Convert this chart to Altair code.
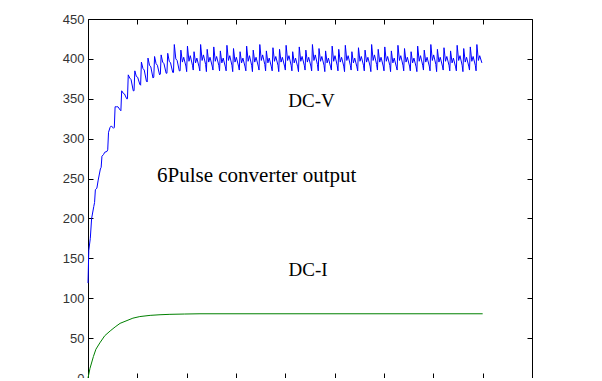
import altair as alt
import pandas as pd

# ---- data ----
y_ticks = [0, 50, 100, 150, 200, 250, 300, 350, 400, 450]
x_ticks = [0, 1, 2, 3, 4, 5, 6, 7, 8, 9]

n_cycles = 60
x_end = 8.0
phases = [0.0, 0.12, 0.35, 0.55, 0.88]

v_trough = [119, 220, 264, 286, 314, 335, 350, 360, 367, 371, 377, 381, 382, 383,
            385, 384, 386, 385, 384, 386, 385, 385, 384, 386, 385, 384, 386, 385, 385, 384,
            386, 385, 384, 386, 385, 385, 384, 386, 385, 384, 386, 385, 385, 384, 386, 385,
            384, 386, 385, 385, 384, 386, 385, 384, 386, 385, 385, 384, 386, 385]
v_peak = [160, 236, 278, 308, 340, 360, 380, 385, 396, 401, 403, 405, 407, 418,
          411, 416, 409, 418, 412, 415, 410, 417, 413, 409, 416, 411, 418, 410, 414, 412,
          417, 409, 415, 411, 418, 413, 410, 416, 412, 417, 409, 414, 411, 418, 412, 415,
          410, 417, 413, 409, 416, 411, 418, 412, 414, 410, 417, 413, 415, 418]
v_dip = [175, 238, 280, 314, 340, 357, 376, 378, 388, 392, 394, 396, 397, 400,
         396, 397, 395, 398, 396, 397, 395, 398, 396, 395, 397, 396, 398, 395, 397, 396,
         398, 395, 397, 396, 398, 397, 395, 397, 396, 398, 395, 397, 396, 398, 396, 397,
         395, 398, 396, 395, 397, 396, 398, 396, 397, 395, 398, 396, 397, 398]
v_bump = [200, 248, 283, 316, 340, 356, 374, 377, 386, 390, 392, 394, 395, 398,
          402, 404, 401, 405, 402, 403, 401, 404, 402, 401, 404, 402, 405, 401, 403, 402,
          404, 401, 403, 402, 405, 403, 401, 404, 402, 404, 401, 403, 402, 405, 402, 403,
          401, 404, 402, 401, 404, 402, 405, 402, 403, 401, 404, 402, 403, 404]
v_pre = [215, 262, 284, 313, 336, 350, 360, 368, 372, 376, 380, 382, 383, 385,
         391, 392, 390, 393, 391, 392, 390, 392, 391, 390, 392, 391, 393, 390, 392, 391,
         392, 390, 392, 391, 393, 392, 390, 392, 391, 392, 390, 392, 391, 393, 391, 392,
         390, 392, 391, 390, 392, 391, 393, 391, 392, 390, 392, 391, 392, 395]

i_x = [0, 0.04, 0.11, 0.16, 0.24, 0.34, 0.45, 0.55, 0.65, 0.75, 0.91, 1.05, 1.26, 1.46,
       1.66, 1.96, 2.27, 8.0]
i_y = [0, 12, 27, 36, 44, 53, 59, 64, 68.5, 71, 75, 77, 78.5, 79.3, 79.8, 80.2, 80.5, 80.5]

labels = ["DC-V", "6Pulse converter output", "DC-I"]
label_x = [4.53, 3.42, 4.46]
label_y = [340, 246, 128]
label_size = [19, 21, 19]

# ---- build tables ----
period = x_end / n_cycles
rows = []
for k in range(n_cycles):
    vals = [v_trough[k], v_peak[k], v_dip[k], v_bump[k], v_pre[k]]
    for ph, v in zip(phases, vals):
        rows.append({"x": (k + ph) * period, "y": v})
v_df = pd.DataFrame(rows)
i_df = pd.DataFrame({"x": i_x, "y": i_y})
t_df = pd.DataFrame({"t": labels, "x": label_x, "y": label_y, "s": label_size})

xs = alt.Scale(domain=[0, 9], nice=False, zero=False)
ys = alt.Scale(domain=[0, 450], nice=False, zero=True)

common = dict(offset=-5, tickSize=5, domain=False, grid=False, title=None,
              tickColor="#000", tickWidth=1)

v_line = alt.Chart(v_df).mark_line(color="#0000ff", strokeWidth=1).encode(
    x=alt.X("x:Q", scale=xs, axis=alt.Axis(orient="bottom", values=x_ticks, labels=False, **common)),
    y=alt.Y("y:Q", scale=ys, axis=alt.Axis(orient="left", values=y_ticks, labelFont="Liberation Sans",
                                           labelFontSize=13, labelColor="#333333", labelPadding=4,
                                           **common)),
    order="x:Q",
)

i_line = alt.Chart(i_df).mark_line(color="#008000", strokeWidth=1).encode(
    x=alt.X("x:Q", scale=xs, axis=alt.Axis(orient="top", values=x_ticks, labels=False, **common)),
    y=alt.Y("y:Q", scale=ys, axis=alt.Axis(orient="right", values=y_ticks, labels=False, **common)),
    order="x:Q",
)

texts = []
for i in range(len(labels)):
    texts.append(
        alt.Chart(t_df.iloc[[i]]).mark_text(
            font="Liberation Serif", fontSize=label_size[i], color="#000000",
            align="center", baseline="alphabetic"
        ).encode(
            x=alt.X("x:Q", scale=xs, axis=None),
            y=alt.Y("y:Q", scale=ys, axis=None),
            text="t:N",
        )
    )

chart = alt.layer(v_line, i_line, *texts).resolve_axis(
    x="independent", y="independent"
).properties(
    width=444, height=359,
    autosize=alt.AutoSizeParams(type="none"),
    padding={"left": 80, "top": 11, "right": 62, "bottom": 0},
    background="white",
).configure_view(stroke="#000000", strokeWidth=1)

chart.save("out.html", embed_options={"renderer": "svg", "actions": False})
